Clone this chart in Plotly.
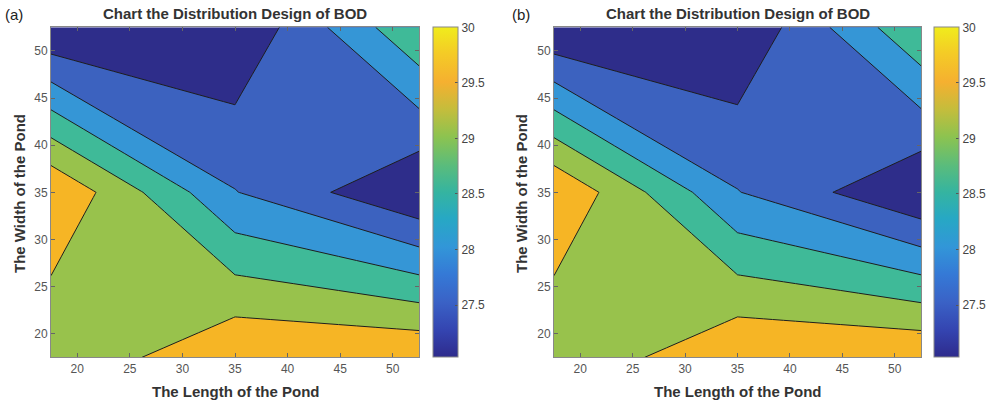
import plotly.graph_objects as go

# ---- data ----
pond_length = [17.5, 35, 52.5]          # x grid
pond_width = [17.5, 35, 52.5]           # y grid
bod_a = [                               # rows follow pond_width
    [29.03, 29.98, 29.98],
    [29.98, 28.02, 27.02],
    [27.02, 27.04, 28.95],
]
bod_b = [
    [29.03, 29.98, 29.98],
    [29.98, 28.02, 27.02],
    [27.02, 27.04, 28.95],
]
level_start, level_end, level_step = 27.5, 29.5, 0.5
axis_ticks = [20, 25, 30, 35, 40, 45, 50]
cbar_ticks = [27.5, 28, 28.5, 29, 29.5, 30]
cbar_min, cbar_max = 27.03, 30.0
panel_labels = ["(a)", "(b)"]
title_text = "Chart the Distribution Design of BOD"
xlabel_text = "The Length of the Pond"
ylabel_text = "The Width of the Pond"

# ---- styling ----
W, H = 991, 402
FONT = "Liberation Sans, Arial, Helvetica, sans-serif"
band_colors = ["#2e2d8a", "#3c62bf", "#3596d6", "#3fba98", "#98c24c", "#f6b525"]
# stepped scale so each fill band gets exactly one colour
band_scale = []
n = len(band_colors)
for i, c in enumerate(band_colors):
    lo = 0 if i == 0 else (i - 0.5) / (n - 1)
    hi = 1 if i == n - 1 else (i + 0.5) / (n - 1)
    band_scale += [[lo, c], [hi, c]]
parula_scale = [
    [0.0, "#2e2b8c"], [0.08, "#3444b0"], [0.1667, "#3a62c6"], [0.25, "#3579d6"],
    [0.3333, "#3296d8"], [0.42, "#27a8c4"], [0.5, "#35b4a0"], [0.58, "#5abc7c"],
    [0.6667, "#8cc350"], [0.75, "#c4bd3c"], [0.8333, "#f5b030"], [0.92, "#f4cb26"],
    [1.0, "#f0ec1c"],
]

panels = [
    dict(z=bod_a, x0=51, x1=419, cb=433, lab=3, ytx=19, xa="x", ya="y"),
    dict(z=bod_b, x0=554, x1=921, cb=934, lab=510, ytx=521, xa="x2", ya="y2"),
]
top_px, bot_px = 27.3, 357.3
ydom = [1 - bot_px / H, 1 - top_px / H]

fig = go.Figure()
annotations = []
for k, p in enumerate(panels):
    fig.add_trace(go.Contour(
        x=pond_length, y=pond_width, z=p["z"],
        contours=dict(start=level_start, end=level_end, size=level_step, coloring="fill"),
        colorscale=band_scale, showscale=False,
        line=dict(color="#1e1e1e", width=1.0, smoothing=0),
        xaxis=p["xa"], yaxis=p["ya"], hoverinfo="skip",
    ))
    fig.add_trace(go.Scatter(
        x=[None, None], y=[None, None], mode="markers",
        marker=dict(color=[cbar_min, cbar_max], colorscale=parula_scale,
                    cmin=cbar_min, cmax=cbar_max, showscale=True,
                    colorbar=dict(
                        x=p["cb"] / W, xanchor="left", y=1 - (top_px + bot_px) / 2 / H,
                        yanchor="middle", len=bot_px - top_px, lenmode="pixels",
                        thickness=25, thicknessmode="pixels", xpad=0, ypad=0,
                        outlinewidth=1, outlinecolor="#888888",
                        ticks="inside", ticklen=3, tickcolor="#555555",
                        tickvals=cbar_ticks, ticktext=[f"{t:g}" for t in cbar_ticks],
                        tickfont=dict(family=FONT, size=12, color="#444444"),
                    )),
        xaxis=p["xa"], yaxis=p["ya"], showlegend=False, hoverinfo="skip",
    ))
    axis_common = dict(
        range=[17.5, 52.5], tickvals=axis_ticks, ticks="inside", ticklen=4,
        tickcolor="#666666", showline=True, linecolor="#888888", linewidth=1,
        mirror="ticks", showgrid=False, zeroline=False,
        tickfont=dict(family=FONT, size=12, color="#555555"),
    )
    suffix = "" if k == 0 else "2"
    fig.update_layout(**{
        "xaxis" + suffix: dict(axis_common, domain=[p["x0"] / W, p["x1"] / W],
                               anchor="y" + suffix),
        "yaxis" + suffix: dict(axis_common, domain=ydom, anchor="x" + suffix),
    })
    cx = (p["x0"] + p["x1"]) / 2 / W
    annotations += [
        dict(text=f"<b>{title_text}</b>", x=cx, y=1 - 14 / H, xref="paper", yref="paper",
             xanchor="center", yanchor="middle", showarrow=False,
             font=dict(family=FONT, size=15, color="#333333")),
        dict(text=f"<b>{xlabel_text}</b>", x=cx, y=1 - 391 / H, xref="paper", yref="paper",
             xanchor="center", yanchor="middle", showarrow=False,
             font=dict(family=FONT, size=15, color="#333333")),
        dict(text=f"<b>{ylabel_text}</b>", x=p["ytx"] / W, y=1 - 194 / H, xref="paper",
             yref="paper", xanchor="center", yanchor="middle", textangle=-90,
             showarrow=False, font=dict(family=FONT, size=15, color="#333333")),
        dict(text=panel_labels[k], x=p["lab"] / W, y=1 - 15 / H, xref="paper", yref="paper",
             xanchor="left", yanchor="middle", showarrow=False,
             font=dict(family=FONT, size=15, color="#222222")),
    ]

fig.update_layout(
    width=W, height=H, margin=dict(l=0, r=0, t=0, b=0),
    paper_bgcolor="white", plot_bgcolor="white",
    annotations=annotations, showlegend=False,
)
fig.write_html("out.html", config={"displayModeBar": False},
               post_script="document.body.style.margin='0';document.body.style.overflow='hidden';")
